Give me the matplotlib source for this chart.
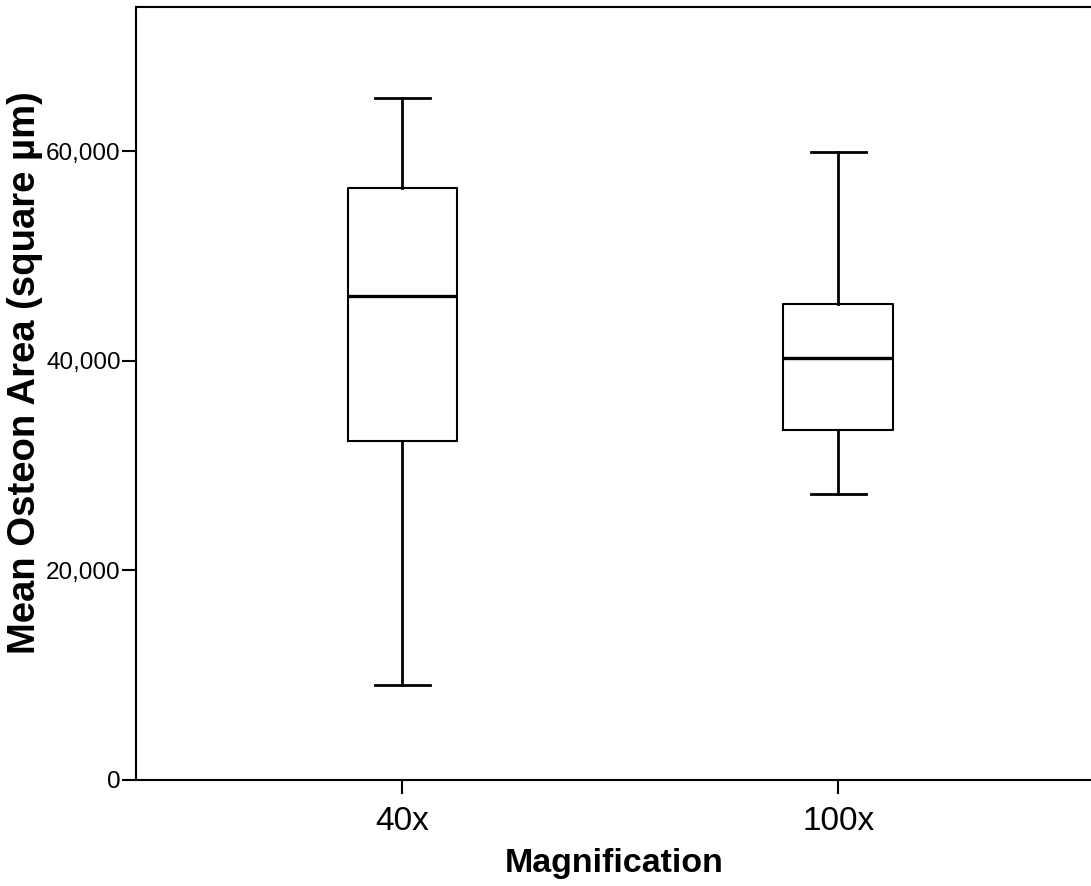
import matplotlib
matplotlib.use("Agg")
import matplotlib.pyplot as plt

categories = ["40x", "100x"]
whisker_low = [9090, 27300]
q1 = [32340, 33360]
median = [46170, 40260]
q3 = [56500, 45400]
whisker_high = [65030, 59880]
y_ticks = [0, 20000, 40000, 60000]
y_tick_labels = ["0", "20,000", "40,000", "60,000"]

plt.rcParams['font.family'] = ['Liberation Sans', 'DejaVu Sans']

fig = plt.figure(figsize=(10.91, 8.86), dpi=100)
ax = fig.add_axes([136/1091, 106/886, 1 - 136/1091 + 0.002, (780-7)/886])

stats = []
for i, c in enumerate(categories):
    stats.append(dict(label=c, whislo=whisker_low[i], q1=q1[i], med=median[i],
                      q3=q3[i], whishi=whisker_high[i], fliers=[]))

positions = [1, 2]
ax.bxp(stats, positions=positions, widths=0.251, showfliers=False,
       boxprops=dict(color='black', linewidth=1.5),
       whiskerprops=dict(color='black', linewidth=2.0),
       capprops=dict(color='black', linewidth=2.0),
       medianprops=dict(color='black', linewidth=2.4),
       capwidths=0.126)

ax.set_xlim(0.389, 2.585)
ax.set_ylim(0, 73740)
ax.set_yticks(y_ticks)
ax.set_yticklabels(y_tick_labels, fontsize=17.5)
ax.set_xticks(positions)
ax.set_xticklabels(categories, fontsize=24)
ax.tick_params(axis='y', length=10, width=1.5, pad=1)
ax.tick_params(axis='x', length=10, width=1.5, pad=9)

for s in ['left', 'bottom', 'top']:
    ax.spines[s].set_linewidth(1.5)
ax.spines['right'].set_visible(False)

ax.set_xlabel("Magnification", fontsize=24.5, fontweight='bold')
ax.xaxis.set_label_coords(0.5, -0.0875)
ax.xaxis.label.set_va('top')
ax.set_ylabel("Mean Osteon Area (square µm)", fontsize=27.5, fontweight='bold')
ax.yaxis.set_label_coords(-0.097, 0.5265)

fig.savefig("out.png", dpi=100)
